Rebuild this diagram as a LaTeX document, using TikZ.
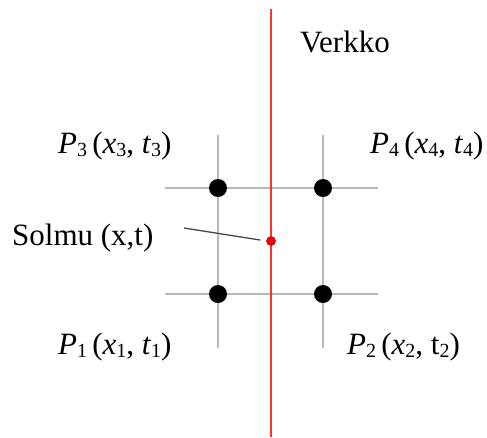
\documentclass[tikz,border=0pt]{standalone}
\usepackage{fontspec}
\setmainfont{Liberation Serif}
\definecolor{netred}{RGB}{255,50,50}
\definecolor{dotedge}{RGB}{150,0,0}
\definecolor{gridgray}{RGB}{185,185,185}
\definecolor{leadgray}{RGB}{70,70,70}
\newcommand\lbsub[1]{\raisebox{-0.12em}{\fontsize{20}{20}\selectfont #1}}
\begin{document}
\begin{tikzpicture}[x=1pt,y=-1pt,
  lbl/.style={anchor=base west,inner sep=0pt,font=\fontsize{31}{37}\selectfont},
  gridline/.style={draw=gridgray,line width=1.5pt},
  netline/.style={draw=netred,line width=1.1pt},
  knot/.style={circle,fill=black,inner sep=0pt,minimum size=18pt},
  reddot/.style={circle,fill=red,draw=dotedge,line width=0.5pt,inner sep=0pt,minimum size=9pt},
  leader/.style={draw=leadgray,line width=1.3pt}]
\useasboundingbox (0,0) rectangle (487,437);
% grid
\draw[gridline] (218,135) -- (218,348);
\draw[gridline] (323,135) -- (323,348);
\draw[gridline] (165,188) -- (378,188);
\draw[gridline] (165,294) -- (378,294);
% network line
\coordinate (nettop) at (271,9);
\coordinate (netbot) at (271,437);
\draw[netline] (nettop) -- (netbot);
% points
\node[knot] (p3) at (218,188) {};
\node[knot] (p4) at (323,188) {};
\node[knot] (p1) at (218,294) {};
\node[knot] (p2) at (323,294) {};
\node[reddot] (rd) at (271,241) {};
% labels
\node[lbl] (verkko) at (300,52) {Verkko};
\node[lbl] (l3) at (58,153) {\textit{P}\lbsub{3}\,(\textit{x}\lbsub{3}, \textit{t}\lbsub{3})};
\node[lbl] (l4) at (370,153) {\textit{P}\lbsub{4}\,(\textit{x}\lbsub{4}, \textit{t}\lbsub{4})};
\node[lbl] (l1) at (58,354) {\textit{P}\lbsub{1}\,(\textit{x}\lbsub{1}, \textit{t}\lbsub{1})};
\node[lbl] (l2) at (347,354) {\textit{P}\lbsub{2}\,(\textit{x}\lbsub{2}, t\lbsub{2})};
\node[lbl] (sol) at (12,245) {Solmu (x,t)};
% leader
\coordinate (leadA) at (184,228);
\draw[leader,shorten >=6pt] (leadA) -- (rd.west);
\end{tikzpicture}
\end{document}
